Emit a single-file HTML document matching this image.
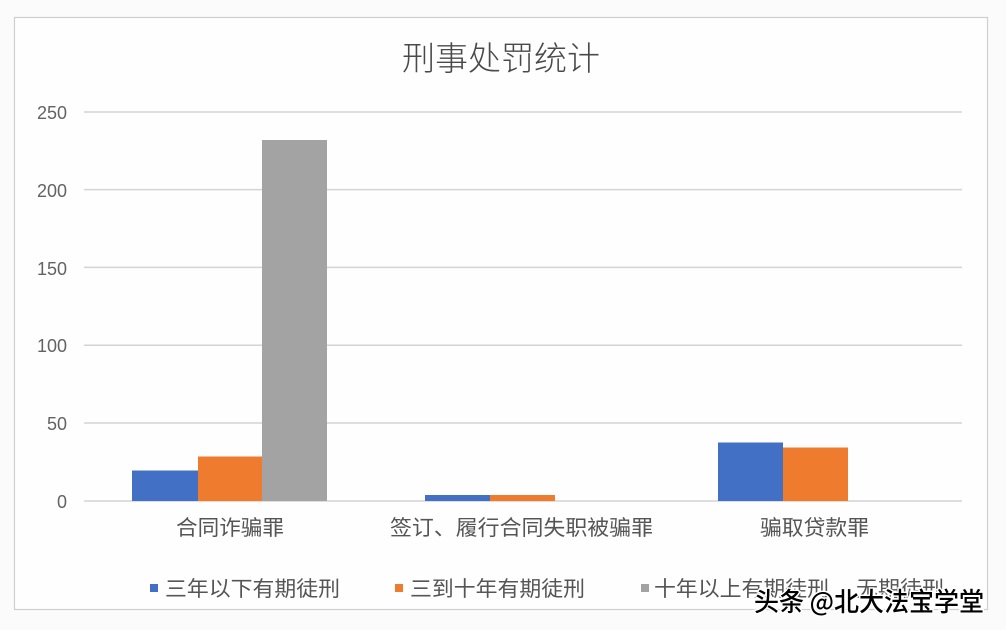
<!DOCTYPE html>
<html><head><meta charset="utf-8"><style>
html,body{margin:0;padding:0;background:#fdfdfd;}
svg{display:block;}
text{font-family:"Liberation Sans","Noto Sans CJK SC",sans-serif;}
</style></head><body>
<svg width="1006" height="630" viewBox="0 0 1006 630" xmlns="http://www.w3.org/2000/svg">
<rect x="0" y="0" width="1006" height="630" fill="#fbfbfb"/>
<rect x="14.5" y="17.5" width="973" height="592" fill="#fefefe" stroke="#cfcfcf" stroke-width="1.2"/>
<text x="501" y="70" text-anchor="middle" font-size="33" fill="#4a4a4a" textLength="198" lengthAdjust="spacingAndGlyphs" style="font-family:'Noto Sans CJK SC',sans-serif;font-weight:300">刑事处罚统计</text>
<g stroke="#d4d4d4" stroke-width="1.5">
<line x1="84" y1="112" x2="962" y2="112"/>
<line x1="84" y1="189.6" x2="962" y2="189.6"/>
<line x1="84" y1="267.4" x2="962" y2="267.4"/>
<line x1="84" y1="345.2" x2="962" y2="345.2"/>
<line x1="84" y1="423" x2="962" y2="423"/>
<line x1="84" y1="501" x2="962" y2="501"/>
</g>
<g font-size="18" fill="#636363" text-anchor="end">
<text x="67" y="119">250</text>
<text x="67" y="197">200</text>
<text x="67" y="275">150</text>
<text x="67" y="352">100</text>
<text x="67" y="430">50</text>
<text x="67" y="508">0</text>
</g>
<rect x="132" y="470.5" width="66" height="30.5" fill="#4170c4"/>
<rect x="198" y="456.5" width="64" height="44.5" fill="#ef7b2e"/>
<rect x="262" y="140" width="65" height="361" fill="#a3a3a3"/>
<rect x="425" y="495" width="65" height="6" fill="#4170c4"/>
<rect x="490" y="495" width="65" height="6" fill="#ef7b2e"/>
<rect x="718" y="442.5" width="65" height="58.5" fill="#4170c4"/>
<rect x="783" y="447.5" width="65" height="53.5" fill="#ef7b2e"/>
<g font-size="21" fill="#555" style="font-family:'Noto Sans CJK SC',sans-serif">
<text x="176" y="535" textLength="108" lengthAdjust="spacingAndGlyphs">合同诈骗罪</text>
<text x="390" y="535" textLength="263" lengthAdjust="spacingAndGlyphs">签订、履行合同失职被骗罪</text>
<text x="760" y="535" textLength="109" lengthAdjust="spacingAndGlyphs">骗取贷款罪</text>
</g>
<rect x="150" y="584" width="8" height="8" fill="#4170c4"/>
<rect x="395" y="584" width="8" height="8" fill="#ef7b2e"/>
<rect x="641" y="584" width="8" height="8" fill="#a3a3a3"/>
<g font-size="21" fill="#555" style="font-family:'Noto Sans CJK SC',sans-serif">
<text x="165" y="596" textLength="175" lengthAdjust="spacingAndGlyphs">三年以下有期徒刑</text>
<text x="410" y="596" textLength="175" lengthAdjust="spacingAndGlyphs">三到十年有期徒刑</text>
<text x="654" y="596" textLength="175" lengthAdjust="spacingAndGlyphs">十年以上有期徒刑</text>
<text x="856" y="596" textLength="88" lengthAdjust="spacingAndGlyphs">无期徒刑</text>
</g>
<text x="754" y="611" font-size="26" fill="#000" stroke="#fff" stroke-width="3" paint-order="stroke" textLength="230" lengthAdjust="spacingAndGlyphs" style="font-family:'Noto Sans CJK SC',sans-serif;font-weight:500">头条 @北大法宝学堂</text>
</svg>
</body></html>
